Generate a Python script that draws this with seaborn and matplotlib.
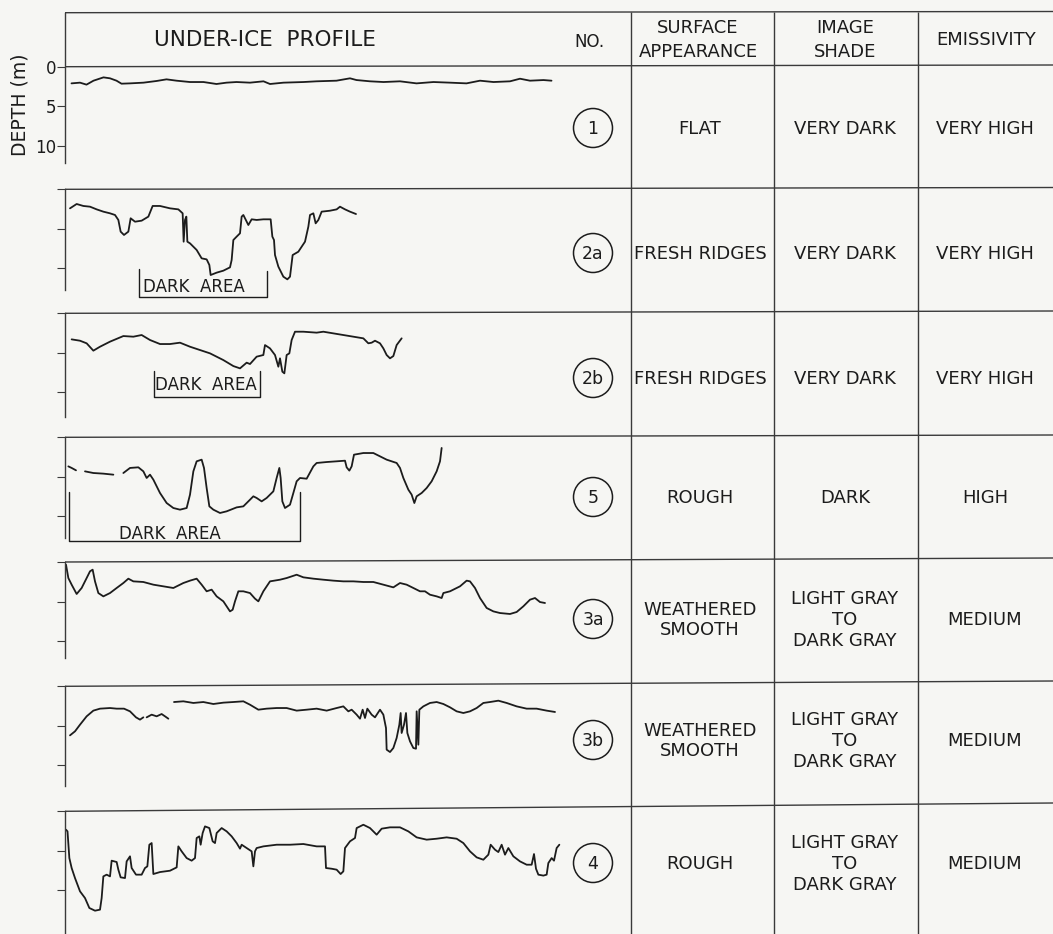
import matplotlib
matplotlib.use("Agg")
import matplotlib.pyplot as plt
from matplotlib.patches import Circle
import pandas as pd
import seaborn as sns

sns.set_theme(style="white")
plt.rcParams["font.family"] = ["DejaVu Sans"]

# ---------------------------------------------------------------------------
# Under-ice draft profiles: (along-track distance, draft in m) per sample.
# Profiles with pen lifts are split into separate segments.
# ---------------------------------------------------------------------------
p1 = [(1.3, 2.11), (3.0, 2.02), (4.3, 2.27), (5.7, 1.77), (7.7, 1.35), (9.0, 1.47),
      (10.3, 1.77), (11.3, 2.15), (13.0, 2.11), (15.7, 2.02), (18.3, 1.81), (20.3, 1.60),
      (22.3, 1.77), (25.0, 1.94), (27.7, 1.94), (30.3, 2.19), (32.3, 2.02), (34.3, 1.94),
      (37.0, 2.02), (39.7, 1.85), (41.0, 2.19), (43.7, 2.02), (47.7, 1.94), (50.3, 1.85),
      (54.3, 1.77), (57.0, 1.47), (58.3, 1.69), (61.0, 1.85), (63.7, 1.94), (67.0, 1.85),
      (70.3, 2.11), (73.7, 1.94), (77.0, 2.02), (80.3, 2.11), (83.0, 1.77), (85.7, 1.94),
      (89.0, 1.85), (91.0, 1.52), (93.0, 1.77), (95.7, 1.69), (97.3, 1.77)]

p2a = [(1.0, 2.41), (2.33, 1.86), (3.67, 2.11), (5.0, 2.20), (6.33, 2.54), (7.67, 2.83),
       (9.0, 3.04), (10.0, 3.25), (10.67, 3.88), (11.13, 5.36), (11.8, 5.78), (12.67, 5.36),
       (13.13, 3.67), (14.0, 4.10), (15.33, 3.97), (16.67, 3.46), (17.53, 2.11), (19.0, 2.11),
       (21.0, 2.41), (22.67, 2.54), (23.53, 3.04), (23.73, 6.63), (24.0, 3.88), (24.27, 3.46),
       (24.47, 6.63), (25.0, 6.84), (26.33, 7.68), (27.33, 8.74), (28.33, 8.87), (28.87, 9.58),
       (29.13, 10.85), (30.33, 10.55), (31.67, 10.30), (33.0, 9.88), (33.33, 8.95),
       (33.67, 6.42), (34.33, 5.99), (35.0, 5.57), (35.33, 3.46), (35.67, 3.25), (36.0, 3.67),
       (36.67, 4.52), (37.33, 3.80), (38.33, 3.88), (39.67, 3.80), (41.13, 3.80), (41.47, 5.99),
       (41.8, 6.42), (42.0, 8.32), (42.67, 9.79), (43.67, 11.06), (44.47, 11.40), (45.0, 11.06),
       (45.53, 8.32), (46.67, 7.90), (48.0, 6.63), (48.67, 4.73), (49.0, 3.25), (49.67, 3.04),
       (50.13, 4.31), (50.67, 3.88), (51.33, 2.83), (53.0, 2.71), (54.33, 2.54), (55.0, 2.20),
       (56.0, 2.54), (57.0, 2.83), (58.2, 3.13)]

p2b = [(1.33, 3.30), (3.0, 3.47), (4.33, 3.80), (5.67, 4.73), (7.0, 4.23), (9.0, 3.59),
       (11.67, 2.88), (13.67, 2.96), (15.33, 2.75), (17.0, 3.38), (19.0, 3.89), (21.0, 3.89),
       (23.0, 3.72), (25.0, 4.23), (27.0, 4.65), (29.0, 5.07), (31.67, 5.92), (33.67, 6.68),
       (35.0, 6.97), (36.33, 6.25), (37.0, 6.42), (38.33, 5.49), (39.67, 5.28), (40.0, 4.02),
       (41.0, 4.44), (42.0, 5.28), (42.67, 6.76), (43.0, 5.70), (43.47, 7.39), (43.87, 7.60),
       (44.33, 5.28), (44.87, 5.07), (45.33, 3.38), (46.0, 2.33), (47.67, 2.33), (50.33, 2.45),
       (51.67, 2.33), (53.67, 2.54), (55.67, 2.75), (57.67, 2.96), (59.67, 3.17), (60.67, 3.80),
       (61.33, 3.72), (62.0, 3.47), (63.0, 3.80), (63.67, 4.44), (64.33, 5.28), (65.0, 5.70),
       (65.67, 5.41), (66.33, 4.02), (67.33, 3.17)]

p5_a = [(0.67, 3.68), (1.33, 3.88), (2.2, 4.18)]
p5_b = [(4.0, 4.31), (5.67, 4.52), (7.67, 4.60), (9.67, 4.73)]
p5_c = [(11.67, 4.52), (13.0, 3.88), (14.67, 3.80), (15.67, 4.31), (16.33, 5.15), (17.0, 4.73),
        (17.67, 5.36), (19.0, 7.05), (20.33, 8.32), (21.67, 8.95), (23.0, 9.16), (24.33, 8.95),
        (25.0, 7.26), (25.67, 4.31), (26.33, 3.04), (27.33, 2.83), (27.8, 3.88), (28.33, 6.42),
        (28.87, 8.74), (29.67, 9.16), (31.0, 9.58), (32.33, 9.37), (34.33, 8.87), (35.67, 8.74),
        (37.0, 7.90), (37.67, 7.47), (38.33, 7.68), (39.33, 8.11), (40.33, 7.68), (41.67, 6.84),
        (42.33, 5.15), (42.87, 3.88), (43.13, 5.15), (43.47, 8.11), (44.0, 8.95), (45.0, 8.53),
        (45.67, 7.05), (46.33, 5.57), (47.0, 5.15), (48.33, 5.24), (49.67, 3.68), (50.33, 3.25),
        (52.33, 3.13), (54.33, 3.04), (56.0, 2.96), (56.33, 3.80), (56.87, 4.22), (57.33, 3.68),
        (57.8, 2.20), (59.67, 1.99), (61.67, 1.99), (63.0, 2.41), (64.33, 2.83), (66.33, 3.25),
        (67.0, 3.88), (67.67, 5.15), (68.67, 6.63), (69.33, 7.26), (69.87, 8.32), (70.33, 7.47),
        (71.33, 7.05), (72.33, 6.42), (73.33, 5.57), (74.33, 4.31), (75.0, 3.04), (75.33, 1.35)]

p3a = [(0.2, 0.34), (0.67, 2.03), (1.33, 2.87), (2.33, 4.05), (3.33, 3.29), (4.33, 2.03),
       (5.0, 1.18), (5.53, 0.97), (6.0, 2.45), (6.67, 3.93), (7.67, 4.35), (9.0, 3.93),
       (10.33, 3.29), (11.67, 2.66), (12.67, 2.11), (13.67, 2.45), (15.67, 2.53), (17.67, 2.87),
       (19.67, 3.08), (21.67, 3.29), (23.67, 2.66), (25.0, 2.36), (26.33, 2.11), (27.33, 2.87),
       (28.33, 3.71), (29.33, 3.50), (30.33, 4.35), (31.67, 4.98), (32.33, 5.61), (33.0, 6.25),
       (33.53, 6.04), (34.0, 4.98), (34.67, 3.71), (35.67, 3.71), (37.0, 3.93), (38.0, 4.64),
       (38.67, 4.98), (39.67, 3.71), (41.0, 2.45), (43.0, 2.24), (44.33, 2.03), (46.33, 1.61),
       (47.67, 1.94), (49.67, 2.11), (51.67, 2.24), (53.67, 2.36), (55.67, 2.45), (57.67, 2.45),
       (59.67, 2.53), (61.67, 2.53), (63.67, 2.87), (65.67, 3.21), (67.0, 2.66), (68.33, 2.87),
       (69.67, 3.29), (71.0, 3.71), (72.0, 3.71), (73.0, 4.14), (74.33, 4.35), (75.33, 4.56),
       (75.67, 3.93), (77.0, 3.71), (79.0, 3.08), (80.33, 2.36), (81.0, 2.45), (82.0, 3.29),
       (83.0, 4.56), (84.33, 5.82), (85.67, 6.25), (87.0, 6.46), (89.0, 6.58), (90.33, 6.33),
       (91.67, 5.61), (93.0, 4.77), (94.0, 4.56), (95.0, 5.07), (96.0, 5.19)]

p3b_a = [(1.0, 6.21), (2.0, 5.70), (3.0, 4.86), (4.33, 3.80), (5.67, 3.08), (7.0, 2.83),
         (9.0, 2.75), (10.33, 2.83), (11.8, 2.83), (13.0, 3.17), (14.2, 3.93), (15.0, 4.22),
         (15.67, 3.93)]
p3b_b = [(16.33, 3.93), (17.33, 3.59), (18.33, 3.80), (19.33, 3.51), (20.0, 3.80), (20.67, 4.10)]
p3b_c = [(21.8, 1.99), (23.67, 1.90), (25.67, 2.11), (27.67, 1.99), (29.67, 2.24), (31.67, 2.07),
         (33.67, 1.99), (35.67, 1.90), (37.0, 2.33), (38.67, 2.96), (40.33, 2.83), (42.33, 2.75),
         (44.33, 2.75), (46.33, 3.08), (48.33, 2.96), (50.33, 2.83), (52.33, 3.08), (54.33, 2.75),
         (55.67, 2.54), (56.67, 3.17), (57.33, 2.96), (58.33, 3.59), (59.0, 4.10), (59.53, 2.96),
         (60.0, 4.01), (60.47, 2.83), (61.33, 3.59), (62.0, 3.93), (63.0, 2.96), (63.67, 3.59),
         (64.2, 5.28), (64.33, 8.02), (65.0, 8.32), (65.67, 7.81), (66.33, 6.54), (66.87, 4.86),
         (67.13, 3.38), (67.33, 5.91), (67.8, 4.86), (68.2, 3.38), (68.47, 5.91), (69.0, 6.97),
         (69.67, 7.81), (70.2, 7.90), (70.33, 3.17), (70.67, 7.39), (70.87, 2.96), (71.67, 2.54),
         (73.0, 2.11), (74.33, 1.99), (75.67, 2.24), (77.0, 2.66), (78.33, 3.17), (79.67, 3.38),
         (81.0, 3.17), (82.33, 2.75), (83.67, 2.11), (85.0, 1.99), (86.67, 1.82), (88.33, 2.11),
         (90.33, 2.54), (92.33, 2.83), (94.33, 2.83), (96.33, 3.08), (98.0, 3.25)]

p4 = [(0.2, 2.33), (0.5, 2.54), (0.87, 5.92), (1.33, 7.18), (2.0, 8.45), (3.0, 10.13),
      (4.0, 10.98), (4.87, 12.24), (6.0, 12.58), (7.0, 12.45), (7.33, 10.98), (7.67, 8.24),
      (8.33, 8.02), (9.0, 8.24), (9.33, 6.25), (10.33, 6.42), (10.67, 7.39), (11.13, 8.36),
      (12.0, 8.45), (12.33, 6.34), (13.0, 5.70), (13.33, 7.18), (14.2, 8.02), (15.33, 8.02),
      (16.0, 7.18), (16.47, 6.97), (16.87, 4.23), (17.33, 4.02), (17.67, 7.94), (19.0, 7.69),
      (21.0, 7.52), (22.33, 7.10), (22.67, 4.44), (23.33, 5.07), (24.33, 5.92), (25.33, 6.25),
      (26.0, 5.92), (26.33, 3.38), (26.87, 3.17), (27.13, 4.23), (27.53, 2.75), (28.0, 1.91),
      (28.87, 2.12), (29.53, 3.80), (30.0, 4.02), (30.33, 2.75), (31.33, 2.12), (32.33, 2.54),
      (33.33, 3.17), (34.33, 4.02), (35.0, 4.73), (35.33, 4.23), (36.33, 4.65), (37.33, 5.07),
      (37.67, 6.97), (38.0, 5.07), (38.33, 4.65), (39.67, 4.44), (42.33, 4.23), (45.0, 4.23),
      (47.67, 4.14), (50.33, 4.44), (52.0, 4.44), (52.2, 7.18), (53.33, 7.27), (54.33, 7.39),
      (55.13, 7.94), (55.67, 7.60), (56.0, 4.65), (57.0, 3.80), (58.0, 3.38), (58.33, 2.12),
      (59.67, 1.70), (61.0, 2.12), (62.33, 2.96), (63.33, 2.20), (65.0, 2.03), (67.0, 2.03),
      (68.67, 2.54), (70.33, 3.30), (72.33, 3.59), (74.33, 3.47), (76.33, 3.30), (78.33, 3.47),
      (79.67, 4.02), (81.0, 5.07), (82.33, 5.83), (83.67, 6.13), (84.67, 5.49), (85.13, 4.23),
      (86.0, 4.86), (86.67, 5.16), (87.33, 4.23), (88.0, 5.49), (88.67, 4.65), (89.67, 5.70),
      (91.0, 6.34), (92.33, 6.76), (93.33, 6.76), (93.8, 5.41), (94.2, 7.27), (94.67, 8.02),
      (95.67, 8.14), (96.33, 8.02), (96.67, 6.55), (97.33, 5.92), (97.8, 6.25), (98.33, 4.65),
      (98.87, 4.23)]

profiles = [[p1], [p2a], [p2b], [p5_a, p5_b, p5_c], [p3a], [p3b_a, p3b_b, p3b_c], [p4]]

# ---------------------------------------------------------------------------
# Table contents
# ---------------------------------------------------------------------------
sample_no = ["1", "2a", "2b", "5", "3a", "3b", "4"]
surface = ["FLAT", "FRESH RIDGES", "FRESH RIDGES", "ROUGH",
           "WEATHERED\nSMOOTH", "WEATHERED\nSMOOTH", "ROUGH"]
shade = ["VERY DARK", "VERY DARK", "VERY DARK", "DARK",
         "LIGHT GRAY\nTO\nDARK GRAY", "LIGHT GRAY\nTO\nDARK GRAY", "LIGHT GRAY\nTO\nDARK GRAY"]
emissivity = ["VERY HIGH", "VERY HIGH", "VERY HIGH", "HIGH", "MEDIUM", "MEDIUM", "MEDIUM"]

# "DARK AREA" brackets: (start, end, depth of left top, depth of right top, depth of base)
dark_area = [None,
             (14.7, 40.3, 10.1, 10.4, 13.6),
             (17.7, 39.0, 7.3, 7.3, 10.6),
             (0.8, 46.9, 6.9, 6.9, 13.1),
             None, None, None]
dark_label_pos = [None, (25.8, 12.35), (28.2, 9.05), (21.0, 12.2), None, None, None]

# ---------------------------------------------------------------------------
# Page layout (pixels)
# ---------------------------------------------------------------------------
W, H, DPI = 1053, 934, 100
PAPER = "#f6f6f3"
INK = "#1c1c1c"
RULE = "#3a3a3a"
PX_PER_M = 7.9                 # vertical scale of every profile
AX_LEFT, AX_RIGHT = 65, 565    # distance 0 .. 100
HEAD_TOP_L, HEAD_TOP_R = 12.7, 11.5
row_top = [66.7, 189.3, 313.3, 437.3, 562.0, 686.3, 811.3]
row_top_right = [65.0, 187.5, 311.0, 435.0, 558.0, 681.0, 803.0]
axis_end = [163.0, 290.0, 416.7, 538.0, 658.0, 786.0, 934.0]
row_text_y = [128, 253, 378, 497, 619, 740, 863]
col_x = [631, 774, 918]
col_center = [700, 845, 985]
NO_X = 593

FS = 13

fig = plt.figure(figsize=(W / DPI, H / DPI), dpi=DPI, facecolor=PAPER)

# page-level layer in pixel units for the table frame and lettering
page = fig.add_axes([0, 0, 1, 1], zorder=0)
page.set_xlim(0, W)
page.set_ylim(H, 0)
page.axis("off")

rule_kw = dict(color=RULE, lw=1.0, solid_capstyle="butt")
page.plot([AX_LEFT, W], [HEAD_TOP_L, HEAD_TOP_R], **rule_kw)
for yl, yr in zip(row_top, row_top_right):
    page.plot([AX_LEFT, W], [yl, yr], **rule_kw)
for x in col_x:
    page.plot([x, x], [HEAD_TOP_L - 1, H], **rule_kw)

# header lettering
txt_kw = dict(color=INK, ha="center", va="center", family="DejaVu Sans")
page.text(265, 40, "UNDER-ICE  PROFILE", fontsize=15.5, **txt_kw)
page.text(589, 42, "NO.", fontsize=12, **txt_kw)
page.text(698, 28, "SURFACE", fontsize=FS, **txt_kw)
page.text(698, 52, "APPEARANCE", fontsize=FS, **txt_kw)
page.text(845, 28, "IMAGE", fontsize=FS, **txt_kw)
page.text(845, 52, "SHADE", fontsize=FS, **txt_kw)
page.text(986, 40, "EMISSIVITY", fontsize=FS, **txt_kw)

# table body
for i, y in enumerate(row_text_y):
    page.add_patch(Circle((NO_X, y), 19.5, fill=False, ec=INK, lw=1.1))
    page.text(NO_X, y + 1, sample_no[i], fontsize=12.5, **txt_kw)
    for cx, val in zip(col_center, (surface[i], shade[i], emissivity[i])):
        page.text(cx, y + 1, val, fontsize=FS, linespacing=1.18, **txt_kw)

# profile panels
for i, segs in enumerate(profiles):
    top_px = HEAD_TOP_L if i == 0 else row_top[i]
    bot_px = axis_end[i]
    ax = fig.add_axes([AX_LEFT / W, 1 - bot_px / H,
                       (AX_RIGHT - AX_LEFT) / W, (bot_px - top_px) / H], zorder=2)
    ax.set_facecolor("none")

    rows = []
    for k, seg in enumerate(segs):
        for d, z in seg:
            rows.append({"dist": d, "depth": z, "seg": k})
    df = pd.DataFrame(rows)
    sns.lineplot(data=df, x="dist", y="depth", units="seg", estimator=None, sort=False,
                 color=INK, linewidth=1.3, ax=ax, legend=False)

    ax.set_xlim(0, 100)
    ax.set_ylim((bot_px - row_top[i]) / PX_PER_M, (top_px - row_top[i]) / PX_PER_M)
    for side in ("top", "right", "bottom"):
        ax.spines[side].set_visible(False)
    ax.spines["left"].set_color(RULE)
    ax.spines["left"].set_linewidth(1.0)
    ax.set_xticks([])
    ax.set_yticks([0, 5, 10])
    ax.tick_params(axis="y", direction="out", length=5.5, width=0.8, color=RULE,
                   pad=1, labelsize=12, labelcolor=INK, left=True)
    if i == 0:
        ax.set_yticklabels(["0", "5", "10"])
    else:
        ax.set_yticklabels([])
    ax.set_xlabel("")
    ax.set_ylabel("")

    if dark_area[i] is not None:
        a, b, zl, zr, zb = dark_area[i]
        ax.plot([a, a, b, b], [zl, zb, zb, zr], color=INK, lw=1.0, clip_on=False)
        tx, tz = dark_label_pos[i]
        ax.text(tx, tz, "DARK  AREA", fontsize=12, color=INK, ha="center", va="center",
                clip_on=False)

# depth axis title
page.text(20, 105, "DEPTH (m)", fontsize=13.5, rotation=90, **txt_kw)

fig.savefig("out.png", dpi=DPI, facecolor=PAPER)
